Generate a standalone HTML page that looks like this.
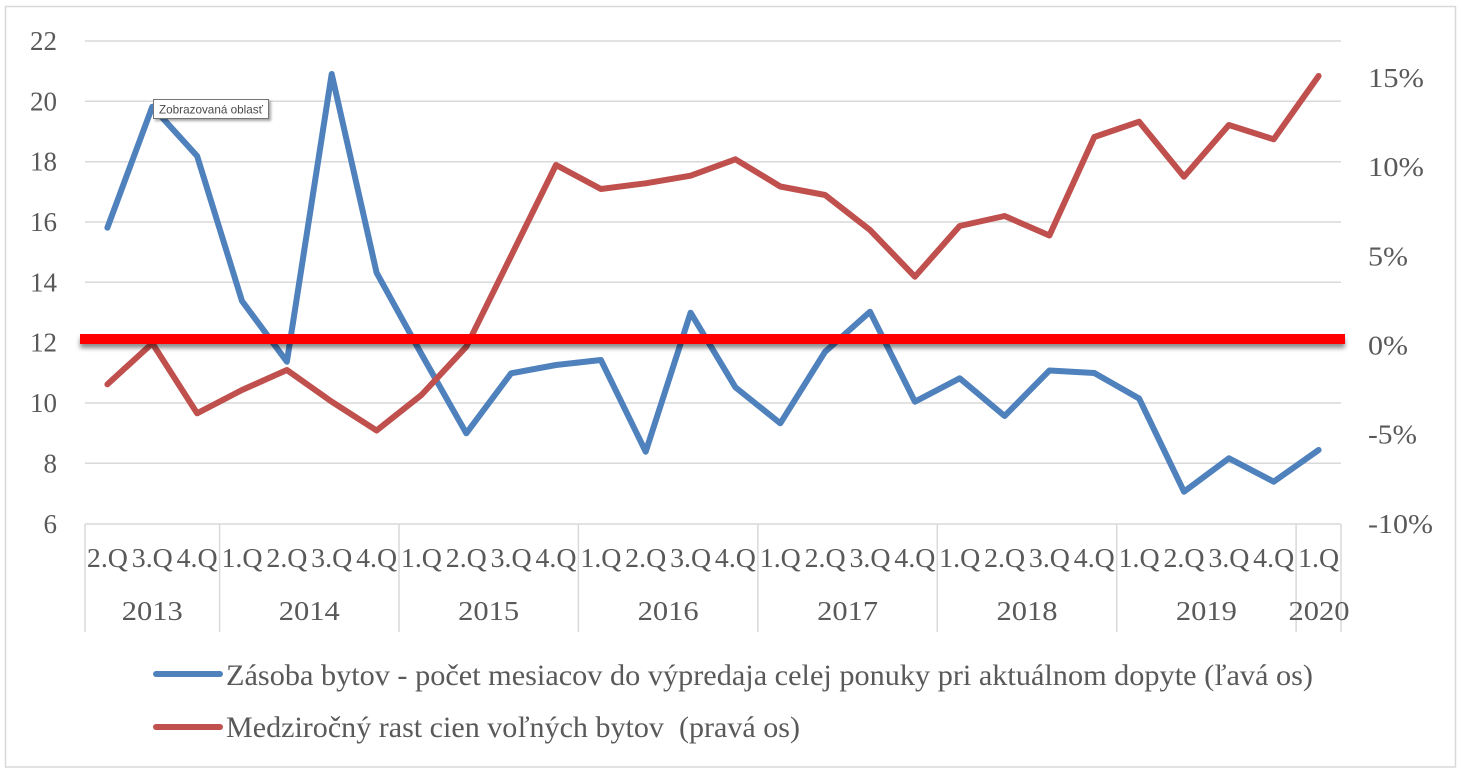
<!DOCTYPE html>
<html>
<head>
<meta charset="utf-8">
<style>
  html,body{margin:0;padding:0;background:#fff;}
  body{width:1461px;height:774px;overflow:hidden;}
  svg{display:block;}
  .ax{font-family:"Liberation Serif","DejaVu Serif",serif;fill:#595959;}
</style>
</head>
<body>
<svg width="1461" height="774" viewBox="0 0 1461 774" xmlns="http://www.w3.org/2000/svg">
  <defs>
    <filter id="sh" x="-5%" y="-200%" width="110%" height="500%">
      <feDropShadow dx="0" dy="4" stdDeviation="2.5" flood-color="#000" flood-opacity="0.45"/>
    </filter>
    <filter id="tsh" x="-10%" y="-30%" width="130%" height="180%">
      <feDropShadow dx="2" dy="2" stdDeviation="1.2" flood-color="#000" flood-opacity="0.35"/>
    </filter>
  </defs>
  <rect x="0" y="0" width="1461" height="774" fill="#fff"/>
  <rect x="5.5" y="6.5" width="1450" height="760.5" fill="none" stroke="#D9D9D9" stroke-width="1.5"/>

  <g stroke="#D9D9D9" stroke-width="1.5">
    <line x1="85" y1="41" x2="1341" y2="41"/>
    <line x1="85" y1="101.3" x2="1341" y2="101.3"/>
    <line x1="85" y1="161.7" x2="1341" y2="161.7"/>
    <line x1="85" y1="222" x2="1341" y2="222"/>
    <line x1="85" y1="282.3" x2="1341" y2="282.3"/>
    <line x1="85" y1="342.7" x2="1341" y2="342.7"/>
    <line x1="85" y1="403" x2="1341" y2="403"/>
    <line x1="85" y1="463.3" x2="1341" y2="463.3"/>
    <line x1="85" y1="524" x2="1341" y2="524"/>
    <line x1="85" y1="524" x2="85" y2="632"/>
    <line x1="219.6" y1="524" x2="219.6" y2="632"/>
    <line x1="399" y1="524" x2="399" y2="632"/>
    <line x1="578.4" y1="524" x2="578.4" y2="632"/>
    <line x1="757.9" y1="524" x2="757.9" y2="632"/>
    <line x1="937.3" y1="524" x2="937.3" y2="632"/>
    <line x1="1116.7" y1="524" x2="1116.7" y2="632"/>
    <line x1="1296.1" y1="524" x2="1296.1" y2="632"/>
    <line x1="1341" y1="524" x2="1341" y2="632"/>
  </g>

  <g class="ax" font-size="27" text-anchor="end">
    <text x="57" y="50">22</text>
    <text x="57" y="110.3">20</text>
    <text x="57" y="170.7">18</text>
    <text x="57" y="231">16</text>
    <text x="57" y="291.3">14</text>
    <text x="57" y="351.7">12</text>
    <text x="57" y="412">10</text>
    <text x="57" y="472.3">8</text>
    <text x="57" y="533">6</text>
  </g>

  <g class="ax" font-size="27">
    <text x="1368" y="87" textLength="56" lengthAdjust="spacingAndGlyphs">15%</text>
    <text x="1368" y="176" textLength="56" lengthAdjust="spacingAndGlyphs">10%</text>
    <text x="1368" y="265.5" textLength="40" lengthAdjust="spacingAndGlyphs">5%</text>
    <text x="1368" y="354.5" textLength="40" lengthAdjust="spacingAndGlyphs">0%</text>
    <text x="1368" y="443.5" textLength="49" lengthAdjust="spacingAndGlyphs">-5%</text>
    <text x="1368" y="533" textLength="65" lengthAdjust="spacingAndGlyphs">-10%</text>
  </g>

  <g class="ax" font-size="27" text-anchor="middle">
    <text x="107.4" y="567" textLength="41" lengthAdjust="spacingAndGlyphs">2.Q</text>
    <text x="152.3" y="567" textLength="41" lengthAdjust="spacingAndGlyphs">3.Q</text>
    <text x="197.1" y="567" textLength="41" lengthAdjust="spacingAndGlyphs">4.Q</text>
    <text x="242.0" y="567" textLength="41" lengthAdjust="spacingAndGlyphs">1.Q</text>
    <text x="286.9" y="567" textLength="41" lengthAdjust="spacingAndGlyphs">2.Q</text>
    <text x="331.7" y="567" textLength="41" lengthAdjust="spacingAndGlyphs">3.Q</text>
    <text x="376.6" y="567" textLength="41" lengthAdjust="spacingAndGlyphs">4.Q</text>
    <text x="421.4" y="567" textLength="41" lengthAdjust="spacingAndGlyphs">1.Q</text>
    <text x="466.3" y="567" textLength="41" lengthAdjust="spacingAndGlyphs">2.Q</text>
    <text x="511.1" y="567" textLength="41" lengthAdjust="spacingAndGlyphs">3.Q</text>
    <text x="556.0" y="567" textLength="41" lengthAdjust="spacingAndGlyphs">4.Q</text>
    <text x="600.9" y="567" textLength="41" lengthAdjust="spacingAndGlyphs">1.Q</text>
    <text x="645.7" y="567" textLength="41" lengthAdjust="spacingAndGlyphs">2.Q</text>
    <text x="690.6" y="567" textLength="41" lengthAdjust="spacingAndGlyphs">3.Q</text>
    <text x="735.4" y="567" textLength="41" lengthAdjust="spacingAndGlyphs">4.Q</text>
    <text x="780.3" y="567" textLength="41" lengthAdjust="spacingAndGlyphs">1.Q</text>
    <text x="825.1" y="567" textLength="41" lengthAdjust="spacingAndGlyphs">2.Q</text>
    <text x="870.0" y="567" textLength="41" lengthAdjust="spacingAndGlyphs">3.Q</text>
    <text x="914.9" y="567" textLength="41" lengthAdjust="spacingAndGlyphs">4.Q</text>
    <text x="959.7" y="567" textLength="41" lengthAdjust="spacingAndGlyphs">1.Q</text>
    <text x="1004.6" y="567" textLength="41" lengthAdjust="spacingAndGlyphs">2.Q</text>
    <text x="1049.4" y="567" textLength="41" lengthAdjust="spacingAndGlyphs">3.Q</text>
    <text x="1094.3" y="567" textLength="41" lengthAdjust="spacingAndGlyphs">4.Q</text>
    <text x="1139.1" y="567" textLength="41" lengthAdjust="spacingAndGlyphs">1.Q</text>
    <text x="1184.0" y="567" textLength="41" lengthAdjust="spacingAndGlyphs">2.Q</text>
    <text x="1228.9" y="567" textLength="41" lengthAdjust="spacingAndGlyphs">3.Q</text>
    <text x="1273.7" y="567" textLength="41" lengthAdjust="spacingAndGlyphs">4.Q</text>
    <text x="1318.6" y="567" textLength="41" lengthAdjust="spacingAndGlyphs">1.Q</text>
  </g>
  <g class="ax" font-size="27" text-anchor="middle">
    <text x="152.3" y="620" textLength="61" lengthAdjust="spacingAndGlyphs">2013</text>
    <text x="309.3" y="620" textLength="61" lengthAdjust="spacingAndGlyphs">2014</text>
    <text x="488.7" y="620" textLength="61" lengthAdjust="spacingAndGlyphs">2015</text>
    <text x="668.1" y="620" textLength="61" lengthAdjust="spacingAndGlyphs">2016</text>
    <text x="847.6" y="620" textLength="61" lengthAdjust="spacingAndGlyphs">2017</text>
    <text x="1027" y="620" textLength="61" lengthAdjust="spacingAndGlyphs">2018</text>
    <text x="1206.4" y="620" textLength="61" lengthAdjust="spacingAndGlyphs">2019</text>
    <text x="1319" y="620" textLength="61" lengthAdjust="spacingAndGlyphs">2020</text>
  </g>

  <polyline fill="none" stroke="#4F81BD" stroke-width="6" stroke-linejoin="round" stroke-linecap="round"
    points="107.4,227.7 152.3,106.7 197.1,156 242.0,301 286.9,361.7 331.7,74 376.6,272.7 421.4,354 466.3,433.3 511.1,373.3 556.0,365 600.9,360 645.7,451.7 690.6,312.7 735.4,387.3 780.3,423.3 825.1,351.7 870.0,311.7 914.9,401.7 959.7,378.3 1004.6,416 1049.4,370.5 1094.3,373 1139.1,398.5 1184.0,491.7 1228.9,458.3 1273.7,481.7 1318.6,450"/>

  <polyline fill="none" stroke="#C0504D" stroke-width="6" stroke-linejoin="round" stroke-linecap="round"
    points="107.4,384.3 152.3,343.3 197.1,413.3 242.0,390 286.9,370 331.7,401.7 376.6,430.5 421.4,395 466.3,346.7 511.1,256 556.0,165 600.9,189 645.7,183.3 690.6,175.7 735.4,159.3 780.3,186.5 825.1,195 870.0,230 914.9,276.7 959.7,226 1004.6,216 1049.4,235.5 1094.3,137 1139.1,121.7 1184.0,176.7 1228.9,125 1273.7,139.3 1318.6,76"/>

  <rect x="80" y="334" width="1265" height="10" fill="#FF0000" filter="url(#sh)"/>

  <g filter="url(#tsh)">
    <rect x="153.5" y="99.5" width="115" height="19" fill="#fff" stroke="#767676" stroke-width="1"/>
  </g>
  <text x="159" y="113.5" font-family="'Liberation Sans','DejaVu Sans',sans-serif" font-size="12" fill="#4a4a4a" textLength="104" lengthAdjust="spacingAndGlyphs">Zobrazovaná oblasť</text>

  <line x1="156" y1="674" x2="220" y2="674" stroke="#4F81BD" stroke-width="6" stroke-linecap="round"/>
  <line x1="156" y1="727" x2="220" y2="727" stroke="#C0504D" stroke-width="6" stroke-linecap="round"/>
  <g class="ax" font-size="30" style="white-space:pre">
    <text x="226" y="685" textLength="1087" lengthAdjust="spacingAndGlyphs">Zásoba bytov - počet mesiacov do výpredaja celej ponuky pri aktuálnom dopyte (ľavá os)</text>
    <text x="226" y="737" textLength="574" lengthAdjust="spacingAndGlyphs" xml:space="preserve">Medziročný rast cien voľných bytov  (pravá os)</text>
  </g>
</svg>
</body>
</html>
